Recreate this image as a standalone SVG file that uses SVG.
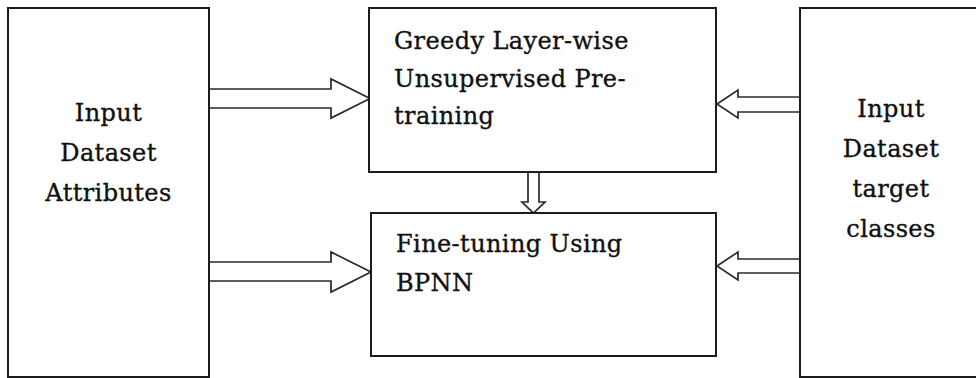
<svg xmlns="http://www.w3.org/2000/svg" width="976" height="378" viewBox="0 0 976 378">
  <style>
    .box { fill: #ffffff; stroke: #1c1c1c; stroke-width: 2; }
    .arrow { fill: #ffffff; stroke: #2a2a2a; stroke-width: 1.7; stroke-linejoin: miter; }
    .label { font-family: "DejaVu Serif", "Liberation Serif", serif; font-size: 24px; letter-spacing: 0.4px; fill: #111111; stroke: #111111; stroke-width: 0.35; }
    .mid { text-anchor: middle; }
  </style>
  <rect x="0" y="0" width="976" height="378" fill="#ffffff"/>

  <!-- block arrows between the stages -->
  <g id="connectors">
    <!-- attributes into pre-training -->
    <path class="arrow" d="M209,89 H331 V79 L370,98.5 L331,118 V108 H209"/>
    <!-- attributes into fine-tuning -->
    <path class="arrow" d="M209,262 H331 V252 L371,272 L331,292 V281 H209"/>
    <!-- target classes into pre-training -->
    <path class="arrow" d="M800,97 H738 V90 L717,104 L738,118 V112 H800 Z"/>
    <!-- target classes into fine-tuning -->
    <path class="arrow" d="M800,259 H738 V252 L717,266 L738,280 V273 H800 Z"/>
    <!-- pre-training down to fine-tuning -->
    <path class="arrow" d="M528,172 V202 H522 L533.5,213 L545,202 H539 V172"/>
  </g>

  <g id="input-attributes">
    <rect class="box" x="8" y="8" width="201" height="369"/>
    <text class="label mid" x="108.5" y="121">Input</text>
    <text class="label mid" x="108.5" y="161">Dataset</text>
    <text class="label mid" x="108.5" y="201">Attributes</text>
  </g>

  <g id="pretraining">
    <rect class="box" x="369" y="8" width="347" height="164"/>
    <text class="label" x="394" y="49">Greedy Layer-wise</text>
    <text class="label" x="394" y="87">Unsupervised Pre-</text>
    <text class="label" x="394" y="124">training</text>
  </g>

  <g id="finetuning">
    <rect class="box" x="371" y="213" width="345" height="143"/>
    <text class="label" x="396" y="252">Fine-tuning Using</text>
    <text class="label" x="396" y="291">BPNN</text>
  </g>

  <g id="input-targets">
    <rect class="box" x="800" y="8" width="190" height="369"/>
    <text class="label mid" x="891" y="117">Input</text>
    <text class="label mid" x="891" y="157">Dataset</text>
    <text class="label mid" x="891" y="197">target</text>
    <text class="label mid" x="891" y="237">classes</text>
  </g>
</svg>
